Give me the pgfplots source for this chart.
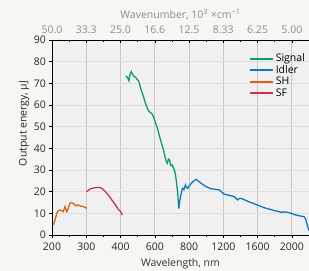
\documentclass[border=0pt]{standalone}
\usepackage{pgfplots}
\pgfplotsset{compat=1.18}
\usepackage{fontspec}
\setmainfont{Open Sans}
\definecolor{cSignal}{HTML}{0A9B6E}
\definecolor{cIdler}{HTML}{0C78BE}
\definecolor{cSH}{HTML}{D8621A}
\definecolor{cSF}{HTML}{D0304E}
\definecolor{bgpage}{HTML}{F6F6F3}
\definecolor{bgplot}{HTML}{F0F0F0}
\definecolor{topgray}{HTML}{8C8C8C}
\pgfplotsset{
  lamtrafo/.style={
    x coord trafo/.code={\pgfmathparse{(##1<=400) ? ((##1-200)/100) : ((##1<=800) ? (2+(##1-400)/200) : (4+(##1-800)/400))}},
  },
}
\begin{document}
\begin{tikzpicture}
\fill[bgpage] (-52pt,-36pt) rectangle (257pt,235pt);
\fill[bgplot] (0,0) rectangle (257pt,195pt);
\begin{axis}[
  at={(0,0)}, anchor=south west,
  scale only axis, width=257pt, height=195pt,
  lamtrafo,
  xmin=200, xmax=2200, ymin=0, ymax=90,
  axis x line*=bottom, axis y line*=left,
  axis line style={black, line width=0.6pt},
  xtick={200,300,400,600,800,1200,1600,2000},
  xticklabels={200,300,400,600,800,1200,1600,2000},
  minor x tick num=1,
  ytick={0,10,...,90},
  tick align=outside,
  major tick length=3pt, minor tick length=2pt,
  tick style={black, line width=0.5pt},
  xmajorgrids, ymajorgrids,
  x grid style={color=black!22, line width=0.8pt},
  y grid style={color=black!13, line width=0.8pt},
  font=\fontsize{10.5}{12}\selectfont,
  ticklabel style={font=\fontsize{10.5}{12}\selectfont},
  /pgf/number format/assume math mode=true,
  xlabel={Wavelength, nm},
  ylabel={Output energy, µJ},
  xlabel style={yshift=-1pt, text=black!80},
  ylabel style={yshift=-2pt, xshift=14pt, text=black!85},
  xticklabel style={text=black!85, yshift=-1.5pt},
  yticklabel style={text=black!85, xshift=0.5pt},
  legend style={draw=none, fill=none, at={(0.755,0.95)}, anchor=north west,
    font=\fontsize{10.5}{12}\selectfont, row sep=-1.8pt},
  legend cell align=left,
  legend image code/.code={\draw[#1, line width=1.8pt] (0pt,0pt) -- (0.8cm,0pt);},
  clip=true,
]
\addplot[cSignal, line width=1.3pt] coordinates {
(430,73.4) (440,72.8) (449,71.2) (455,74.0) (463,75.4) (475,73.5) (490,72.6) (507,70.8)
(520,67.0) (531,64.6) (545,61.0) (560,57.7) (573,56.6) (585,55.8) (599,53.1)
(610,50.5) (618,48.5) (626,46.0) (634,43.8) (642,41.5) (651,39.2) (660,36.0)
(667,34.0) (673,33.1) (680,35.0) (686,34.6) (693,32.0) (702,32.3) (708,31.0)
(715,30.0) (720,28.0) (725,25.4) (730,22.0) (734,19.2) (737,15.0) (740,12.3)
};
\addlegendentry{Signal}
\addplot[cIdler, line width=1.3pt] coordinates {
(740,12.3) (746,16.0) (754,19.2) (762,21.5) (770,21.0) (779,23.1) (785,22.0) (792,21.5)
(800,22.6) (812,23.1) (830,24.0) (850,24.8) (883,25.7) (910,24.8) (950,23.6)
(999,22.3) (1050,21.4) (1100,21.1) (1153,20.8) (1212,18.8) (1260,18.4) (1300,18.0)
(1328,17.7) (1350,16.8) (1367,16.2) (1385,16.8) (1406,16.9) (1450,16.2)
(1500,15.3) (1550,14.6) (1599,13.8) (1650,13.0) (1700,12.3) (1750,11.8)
(1800,11.2) (1851,10.8) (1880,10.4) (1900,10.7) (1947,10.5) (2000,9.9)
(2040,9.3) (2084,8.9) (2120,8.6) (2140,8.5) (2160,7.5) (2180,4.6) (2200,2.0)
};
\addlegendentry{Idler}
\addplot[cSH, line width=1.3pt] coordinates {
(204,4.6) (209,7.0) (214,10.0) (218,11.2) (223,11.5) (228,11.3) (233,10.8) (238,13.1)
(243,10.8) (247,12.0) (252,14.6) (257,15.0) (262,14.6) (267,13.8) (272,13.4)
(276,13.9) (281,13.5) (286,13.3) (291,13.1) (296,12.8) (301,12.3)
};
\addlegendentry{SH}
\addplot[cSF, line width=1.3pt] coordinates {
(301,20.0) (308,20.9) (315,21.5) (325,21.8) (335,22.0) (342,21.8) (349,21.1) (356,20.0)
(364,18.5) (371,17.0) (378,15.4) (385,14.0) (393,11.9) (400,10.9) (407,9.7) (410,9.2)
};
\addlegendentry{SF}
\end{axis}
\begin{axis}[
  at={(0,0)}, anchor=south west,
  scale only axis, width=257pt, height=195pt,
  lamtrafo,
  xmin=200, xmax=2200, ymin=0, ymax=90,
  axis x line*=top, hide y axis,
  axis line style={black, line width=0.6pt},
  xtick={200,300,400,600,800,1200,1600,2000},
  xticklabels={50.0,33.3,25.0,16.6,12.5,8.33,6.25,5.00},
  minor x tick num=1,
  tick align=inside,
  major tick length=3pt, minor tick length=2pt,
  tick style={black, line width=0.5pt},
  font=\fontsize{10.5}{12}\selectfont,
  xticklabel style={text=topgray, font=\fontsize{10.5}{12}\selectfont, yshift=3pt},
  xlabel={Wavenumber, 10\textsuperscript{3} ×cm\textsuperscript{−1}},
  xlabel style={text=topgray, yshift=-1pt},
]
\addplot[draw=none] coordinates {(200,0)};
\end{axis}
\pgfresetboundingbox
\useasboundingbox (-52pt,-36pt) rectangle (257pt,235pt);
\end{tikzpicture}
\end{document}
